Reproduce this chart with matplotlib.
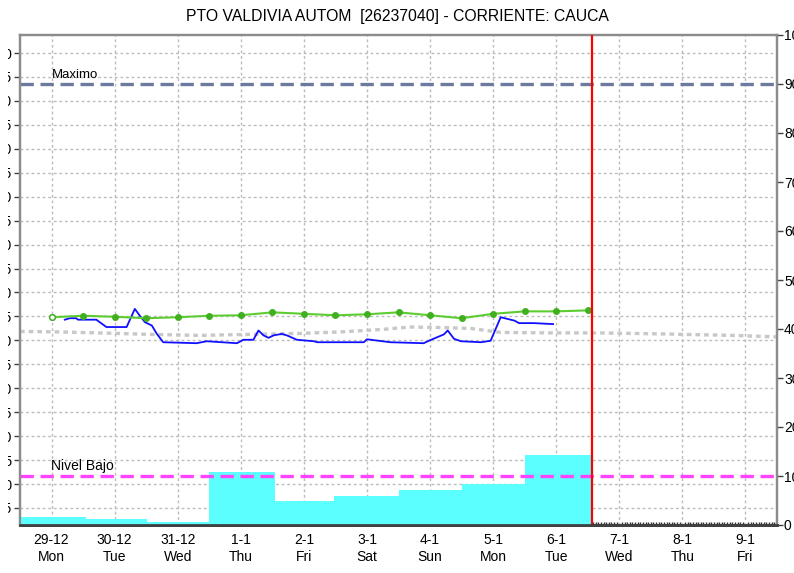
import numpy as np
import matplotlib
matplotlib.use('Agg')
import matplotlib.pyplot as plt
from matplotlib.transforms import Bbox

plt.rcParams['font.family'] = ['Liberation Sans', 'DejaVu Sans']

# Etiquetas del eje x (centro de cada dia)
fechas = ['29-12', '30-12', '31-12', '1-1', '2-1', '3-1', '4-1', '5-1', '6-1', '7-1', '8-1', '9-1']
dias_sem = ['Mon', 'Tue', 'Wed', 'Thu', 'Fri', 'Sat', 'Sun', 'Mon', 'Tue', 'Wed', 'Thu', 'Fri']

# Precipitacion diaria (eje derecho)
lluvia_inicio = [0, 1.04, 2.02, 3.0, 4.05, 4.98, 6.0, 7.01, 8.0]
lluvia_fin = [1.04, 2.02, 3.0, 4.05, 4.98, 6.0, 7.01, 8.0, 9.06]
lluvia = [1.7, 1.3, 0.6, 10.8, 5.0, 5.9, 7.2, 8.4, 14.2]

# Serie verde (cada 12 h)
verde_t = [0.5, 1.0, 1.5, 2.0, 2.5, 3.0, 3.5, 4.0, 4.5, 5.0, 5.5, 6.0, 6.5, 7.0, 7.5, 8.0, 8.5, 9.0]
verde_v = [42.4, 42.7, 42.5, 42.2, 42.4, 42.7, 42.8, 43.4, 43.1, 42.8, 43.0, 43.4, 42.8, 42.2,
           43.1, 43.6, 43.6, 43.8]

# Serie azul (nivel observado)
azul_t = [0.71, 0.79, 0.89, 0.92, 1.21, 1.37, 1.69, 1.82, 1.90, 1.98, 2.09, 2.17, 2.27, 2.80,
          2.96, 3.44, 3.54, 3.70, 3.78, 3.86, 3.94, 4.02, 4.15, 4.23, 4.39, 4.66, 4.71, 5.45,
          5.50, 5.87, 6.40, 6.48, 6.72, 6.78, 6.88, 6.99, 7.31, 7.46, 7.62, 7.84, 7.91, 8.15,
          8.45]
azul_v = [41.9, 42.2, 42.2, 41.9, 41.9, 40.4, 40.4, 44.1, 42.7, 41.4, 40.7, 39.0, 37.3, 37.1,
          37.5, 37.1, 37.8, 37.8, 39.7, 38.7, 38.2, 38.7, 39.0, 38.7, 37.8, 37.5, 37.3, 37.3,
          37.9, 37.3, 37.1, 37.6, 38.9, 39.7, 38.0, 37.5, 37.3, 37.6, 42.4, 41.7, 41.2, 41.2,
          41.0]

# Serie gris punteada
gris_t = [0.0, 0.63, 1.26, 2.06, 2.85, 3.65, 4.44, 5.08, 5.72, 6.19, 6.67, 7.15, 7.62, 8.42,
          9.21, 10.17, 11.28, 12.0]
gris_v = [39.5, 39.4, 39.2, 38.9, 38.7, 38.9, 39.1, 39.4, 39.9, 40.4, 40.3, 40.1, 39.3, 39.2,
          39.2, 39.0, 38.7, 38.4]

maximo = 90
nivel_bajo = 10
ahora = 9.07

# Eje izquierdo (recortado en la imagen)
izq_ticks = np.arange(0.5, 10.01, 0.5)

fig = plt.figure(figsize=(7.94, 5.73), dpi=100)
ax = fig.add_axes([20 / 794, 48 / 573, 757 / 794, 490 / 573])
ax2 = ax.twinx()

grid_col = '#bcbcbc'
spine_col = '#8c8c8c'

ax.set_xlim(0, 12)
ax.set_ylim(0.145, 10.376)
ax.set_yticks(izq_ticks)
ax.set_yticklabels(['%.1f' % v for v in izq_ticks])
ax.grid(True, color=grid_col, linestyle=(0, (2, 2)), linewidth=1.0)
ax.set_xticks(np.arange(0.5, 12, 1))
ax.set_xticklabels([f + '\n' + d for f, d in zip(fechas, dias_sem)], linespacing=1.2)
ax.set_xticks(np.arange(0, 12, 1 / 24), minor=True)
ax.tick_params(axis='x', which='major', length=0, pad=6, labelsize=10, colors='black')
ax.tick_params(axis='x', which='minor', length=2, width=1, color='#303030', direction='in')
ax.tick_params(axis='y', length=4, width=1, color='#404040', pad=2, labelsize=10)

ax2.set_ylim(0, 100)
ax2.set_yticks(np.arange(0, 101, 10))
ax2.tick_params(axis='y', length=4, width=1, color='#404040', pad=1, labelsize=10)

for a in (ax, ax2):
    for s in a.spines.values():
        s.set_color(spine_col)
        s.set_linewidth(1.6)
    a.spines['bottom'].set_color('#404040')
    a.spines['bottom'].set_linestyle((0, (1, 1)))
    a.spines['bottom'].set_linewidth(2.0)
ax2.spines['bottom'].set_zorder(8)

# barras de precipitacion
ax2.bar(lluvia_inicio, lluvia, width=np.array(lluvia_fin) - np.array(lluvia_inicio),
        align='edge', color='#5cffff', edgecolor='none', zorder=1)

# lineas de referencia
ax2.axhline(maximo, color='#6c7aa0', linestyle=(0, (4, 2)), linewidth=2.4, zorder=2)
ax2.axhline(nivel_bajo, color='#ff44ff', linestyle=(0, (4, 2)), linewidth=2.4, zorder=2)
ax2.text(0.5, maximo + 0.6, 'Maximo', fontsize=9.5, va='bottom', ha='left', zorder=3)
ax2.text(0.49, nivel_bajo + 0.6, 'Nivel Bajo', fontsize=10, va='bottom', ha='left', zorder=3)

# series
ax2.plot(gris_t, gris_v, color='#c8c8c8', linewidth=2.4, linestyle=(0, (1.4, 1.2)), zorder=2)
ax2.plot(azul_t, azul_v, color='#1010ff', linewidth=1.3, zorder=4)
ax2.plot(verde_t, verde_v, color='#5ccc30', linewidth=1.5, marker='o', markersize=4,
         markerfacecolor='#40b020', markeredgecolor='#40b020', zorder=5)
ax2.plot(verde_t[:1], verde_v[:1], linestyle='none', marker='o', markersize=4,
         markerfacecolor='white', markeredgecolor='#40b020', zorder=6)

ax2.axvline(ahora, color='#ff0000', linewidth=1.6, zorder=6)

fig.suptitle('PTO VALDIVIA AUTOM  [26237040] - CORRIENTE: CAUCA', fontsize=11.3, y=1 - 17 / 573,
             va='center')

# la imagen original corta las etiquetas del eje izquierdo
clip = Bbox.from_extents(8, 0, 20, 573)
for lbl in ax.get_yticklabels():
    lbl.set_clip_box(clip)
    lbl.set_clip_on(True)

fig.savefig('out.png', dpi=100)
